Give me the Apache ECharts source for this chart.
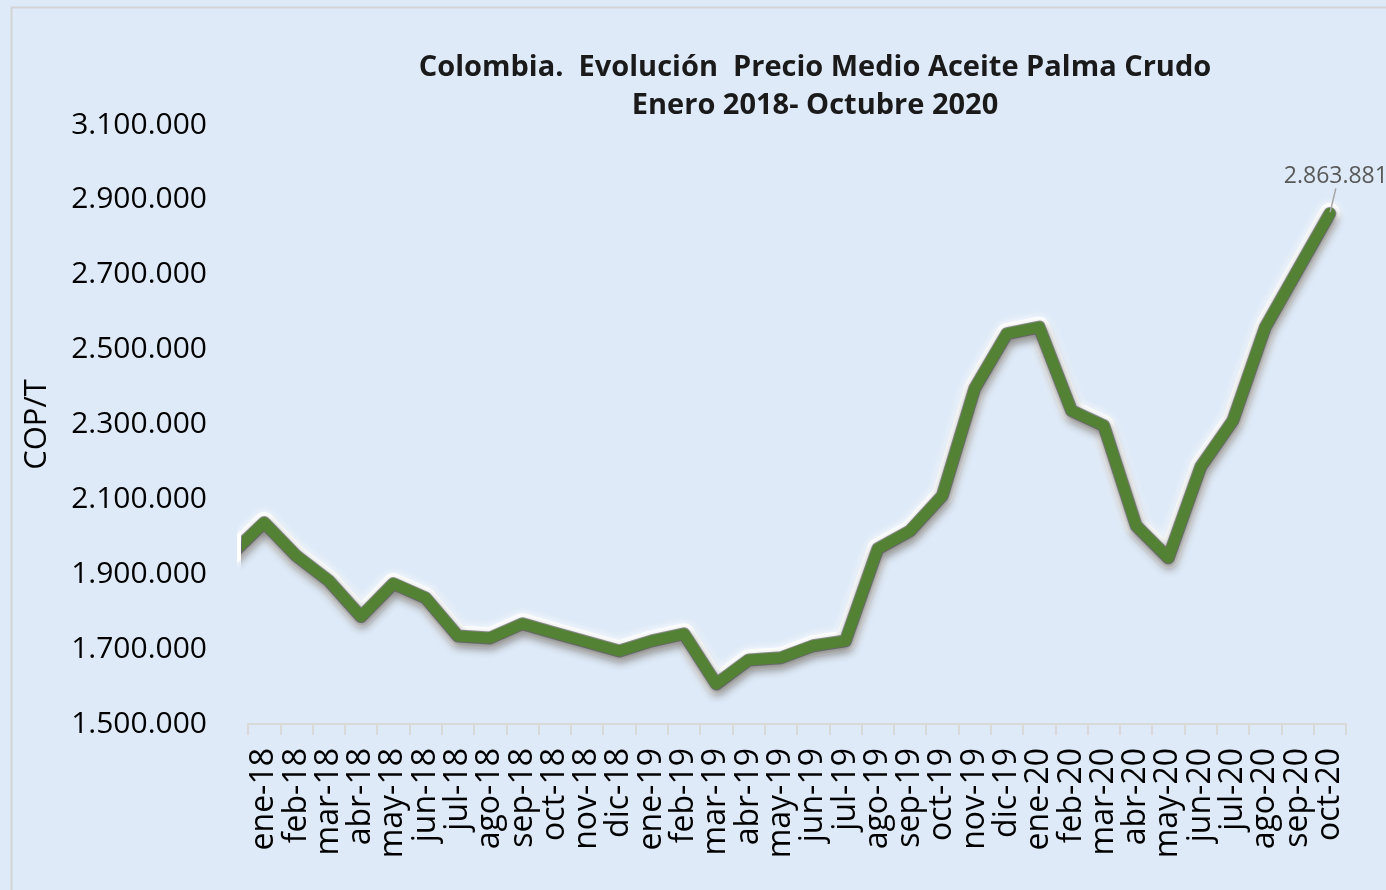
<!DOCTYPE html>
<html>
<head>
<meta charset="utf-8">
<script src="https://cdn.jsdelivr.net/npm/echarts@6/dist/echarts.min.js"></script>
<style>
html,body{margin:0;padding:0;background:#DEEAF8;}
#chart{width:1386px;height:890px;}
</style>
</head>
<body>
<div id="chart"></div>
<script>
// Month categories (dic-17 lies just outside the left edge and is clipped, as in the reference)
const categories = ['dic-17','ene-18','feb-18','mar-18','abr-18','may-18','jun-18','jul-18','ago-18','sep-18','oct-18','nov-18','dic-18',
  'ene-19','feb-19','mar-19','abr-19','may-19','jun-19','jul-19','ago-19','sep-19','oct-19','nov-19','dic-19',
  'ene-20','feb-20','mar-20','abr-20','may-20','jun-20','jul-20','ago-20','sep-20','oct-20'];
// Precio medio aceite de palma crudo (COP/T)
const prices = [1955000, 2038000, 1949000, 1883000, 1787000, 1875000, 1837000, 1735000, 1730000, 1768000, 1743000, 1719000, 1695000,
  1722000, 1741000, 1607000, 1671000, 1677000, 1709000, 1722000, 1968000, 2016000, 2110000, 2396000, 2543000,
  2560000, 2337000, 2297000, 2030000, 1944000, 2187000, 2311000, 2560000, 2712000, 2863881];
const yTicks = {min: 1500000, max: 3100000, step: 200000};
const titleLines = ['Colombia.  Evolución  Precio Medio Aceite Palma Crudo', 'Enero 2018- Octubre 2020'];
const yName = 'COP/T';

function fmt(v){ return String(Math.round(v)).replace(/\B(?=(\d{3})+(?!\d))/g, '.'); }

const lastIdx = prices.length - 1;
const seriesData = prices.map((v, i) => i === lastIdx ? {
  value: v,
  symbol: 'circle', symbolSize: 2,
  label: {show: true, position: 'top', distance: 2, formatter: p => fmt(p.value),
          color: '#595959', fontSize: 23, fontFamily: 'Open Sans'},
  labelLine: {show: true, lineStyle: {color: '#a6a6a6', width: 1.5}}
} : {value: v, symbol: 'none'});

const chart = echarts.init(document.getElementById('chart'), null, {renderer: 'canvas'});
chart.setOption({
  backgroundColor: '#DEEAF8',
  animation: false,
  title: {
    text: titleLines.join('\n'),
    left: 810, top: 44, textAlign: 'center',
    textStyle: {fontFamily: 'Open Sans', fontWeight: 'bold', fontSize: 29, lineHeight: 38, color: '#1a1a1a'}
  },
  graphic: [{
    type: 'rect', left: 9, top: 5, shape: {width: 1400, height: 900},
    style: {fill: 'none', stroke: '#d4d4d4', lineWidth: 2}, silent: true, z: -1
  }],
  grid: {left: 248, right: 40, top: 125, bottom: 166, containLabel: false},
  xAxis: {
    type: 'category', data: categories, min: 1, boundaryGap: true,
    axisLine: {show: true, lineStyle: {color: '#d9d9d9', width: 2}},
    axisTick: {show: true, length: 11, lineStyle: {color: '#d9d9d9', width: 2}, alignWithLabel: false},
    axisLabel: {interval: 0, rotate: 90, margin: 24, fontFamily: 'Open Sans', fontSize: 32, color: '#000'},
    splitLine: {show: false}
  },
  yAxis: {
    type: 'value', min: yTicks.min, max: yTicks.max, interval: yTicks.step,
    name: yName, nameLocation: 'middle', nameGap: 195, nameRotate: 90,
    nameTextStyle: {fontFamily: 'Open Sans', fontSize: 31, color: '#000'},
    axisLine: {show: false}, axisTick: {show: false}, splitLine: {show: false},
    axisLabel: {formatter: fmt, margin: 41, fontFamily: 'Open Sans', fontSize: 30, color: '#000'}
  },
  series: [{
    // soft white glow under the line
    type: 'line', data: prices, clip: true, showSymbol: false, symbol: 'none', silent: true,
    lineStyle: {color: 'rgba(255,255,255,0.9)', width: 21, cap: 'round', join: 'round',
      shadowColor: 'rgba(255,255,255,1)', shadowBlur: 8},
    z: 1
  }, {
    // dark drop shadow
    type: 'line', data: prices, clip: true, showSymbol: false, symbol: 'none', silent: true,
    lineStyle: {color: 'rgba(70,70,70,0.6)', width: 13, cap: 'round', join: 'round',
      shadowColor: 'rgba(0,0,0,0.8)', shadowBlur: 8, shadowOffsetX: 1, shadowOffsetY: 5},
    z: 2
  }, {
    type: 'line', data: seriesData, clip: true, showSymbol: true,
    itemStyle: {color: '#548235'},
    lineStyle: {color: '#548235', width: 11, cap: 'round', join: 'round'},
    labelLayout: {dx: 6, dy: -22},
    z: 3
  }]
});
</script>
</body>
</html>
